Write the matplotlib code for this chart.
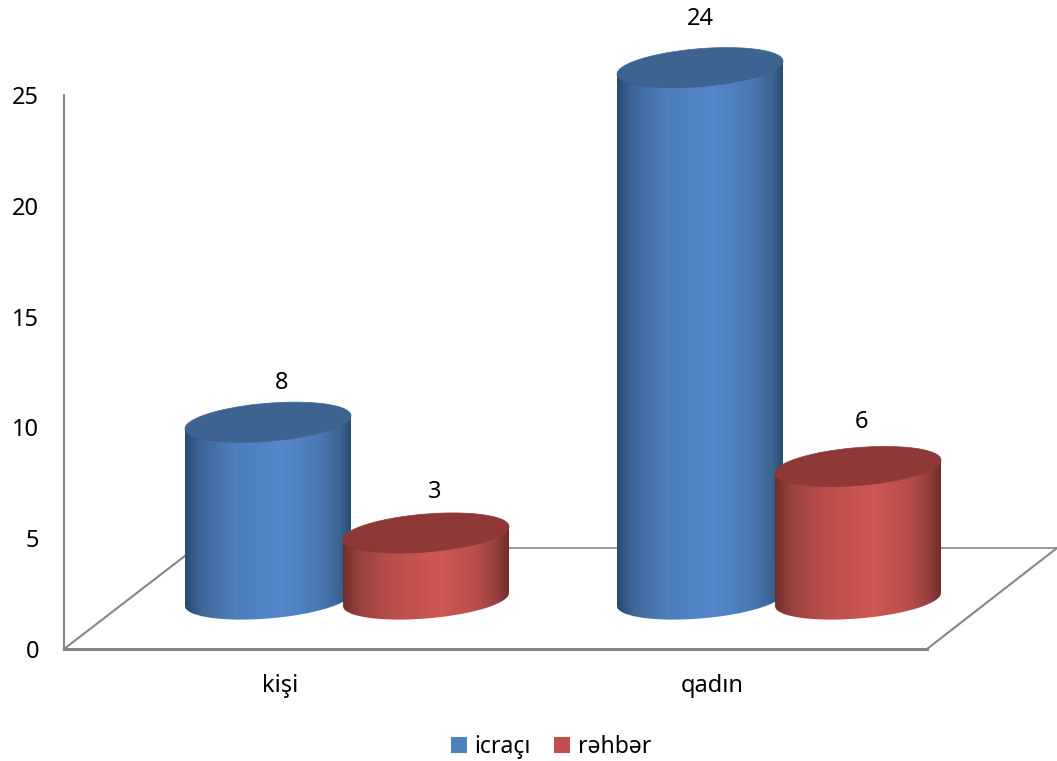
import numpy as np
import matplotlib
matplotlib.use('Agg')
import matplotlib.pyplot as plt
from matplotlib.colors import LinearSegmentedColormap
from matplotlib.patches import Patch, PathPatch, Polygon
from matplotlib.path import Path

plt.rcParams['font.family'] = ['Noto Sans', 'DejaVu Sans']

categories = ['kişi', 'qadın']
series_names = ['icraçı', 'rəhbər']
icraci = [8, 24]
rehber = [3, 6]
y_ticks = [0, 5, 10, 15, 20, 25]

# layout, in pixels of the 1057x761 picture
W, H = 1057, 761
AX_LEFT, AX_BOTTOM, AX_TOP = 64, 649, 95
PX = (AX_BOTTOM - AX_TOP) / 25  # pixels per unit
BASE = 49.5 / PX    # floor centre line above the zero line
SEMI_W = 83
SEMI_H = 19 / PX
SHEAR = 6.5 / PX    # ellipse rises to the right
group_x = [347, 779]
bar_dx = 79
cat_x = [280, 712]
FLOOR_BACK = 101 / PX

blue_cmap = LinearSegmentedColormap.from_list('blue', [
    (0, '#2a4a70'), (0.1, '#3e6899'), (0.3, '#4c7fbb'), (0.58, '#5587ca'),
    (0.8, '#4a7ab5'), (0.93, '#3d6593'), (1, '#2c4c73')])
red_cmap = LinearSegmentedColormap.from_list('red', [
    (0, '#6f2d2c'), (0.1, '#9a4240'), (0.3, '#b94e4b'), (0.58, '#cf5855'),
    (0.8, '#b94e4b'), (0.93, '#933f3d'), (1, '#702d2c')])
blue_top, red_top = '#3d6490', '#8e3937'

fig = plt.figure(figsize=(W / 100, H / 100), dpi=100)
ax = fig.add_axes([AX_LEFT / W, (H - AX_BOTTOM) / H,
                   (W - AX_LEFT) / W, (AX_BOTTOM - AX_TOP) / H])


def cylinder(ax, cx, value, cmap, top_color, z):
    t = np.linspace(0, 2 * np.pi, 200)
    ex = SEMI_W * np.cos(t)
    ey = SEMI_H * np.sin(t) + SHEAR * np.cos(t)
    # side: lower half of the base ellipse, then straight up to the top
    lower = t >= np.pi
    bx = cx + ex[lower]
    by = BASE + ey[lower]
    verts = np.vstack([np.c_[bx, by],
                       [[cx + SEMI_W, BASE + value + SHEAR],
                        [cx - SEMI_W, BASE + value - SHEAR]]])
    body = Polygon(verts, closed=True, facecolor='none', edgecolor='none',
                   transform=ax.transData)
    ax.add_patch(body)
    grad = np.linspace(0, 1, 256).reshape(1, -1)
    im = ax.imshow(grad, cmap=cmap, aspect='auto', zorder=z, interpolation='bilinear',
                   extent=[cx - SEMI_W, cx + SEMI_W, BASE - 2, BASE + value + 2])
    im.set_clip_path(body)
    im.set_clip_box(fig.bbox)
    top = PathPatch(Path(np.c_[cx + ex, BASE + value + ey]), facecolor=top_color,
                    edgecolor=top_color, lw=0.5, zorder=z + 0.5, clip_on=False)
    ax.add_patch(top)


z = 3
for i, gx in enumerate(group_x):
    cylinder(ax, gx - bar_dx, icraci[i], blue_cmap, blue_top, z)
    cylinder(ax, gx + bar_dx, rehber[i], red_cmap, red_top, z + 1)
    z += 2

# floor
ax.plot([927, W], [0, FLOOR_BACK], color='#868686', lw=1.5, clip_on=False, zorder=2)
ax.plot([AX_LEFT, 190], [0, FLOOR_BACK * 0.96], color='#868686', lw=1.5, clip_on=False, zorder=2)
ax.plot([190, W], [FLOOR_BACK, FLOOR_BACK], color='#868686', lw=1.2, clip_on=False, zorder=2)
ax.plot([AX_LEFT, 927], [0, 0], color='#868686', lw=2.2, clip_on=False, zorder=2)

# value labels
label_pos = [(282, icraci[0], 39.5), (435, rehber[0], 41), (700, icraci[1], 48.5), (861, rehber[1], 44.5)]
for x, v, off in label_pos:
    ax.text(x, BASE + v + off / PX, str(v), ha='center', va='center', fontsize=17, color='black', clip_on=False)

ax.set_xlim(AX_LEFT, W)
ax.set_ylim(0, 25)
ax.set_yticks(y_ticks)
ax.set_xticks(cat_x)
ax.set_xticklabels(categories)
ax.tick_params(axis='y', length=0, pad=18, labelsize=17)
ax.tick_params(axis='x', length=0, pad=18, labelsize=17)
for name in ['top', 'right', 'bottom']:
    ax.spines[name].set_visible(False)
ax.spines['left'].set_color('#868686')
ax.spines['left'].set_linewidth(1.5)
ax.patch.set_alpha(0)

handles = [Patch(facecolor='#4f81bd', label=series_names[0]),
           Patch(facecolor='#c0504d', label=series_names[1])]
fig.legend(handles=handles, loc='center', bbox_to_anchor=(551 / W, 1 - 747 / H), ncol=2,
           frameon=False, fontsize=16.5, handlelength=0.68, handleheight=0.68,
           handletextpad=0.35, columnspacing=1.0, borderpad=0)

fig.savefig('out.png', dpi=100)
